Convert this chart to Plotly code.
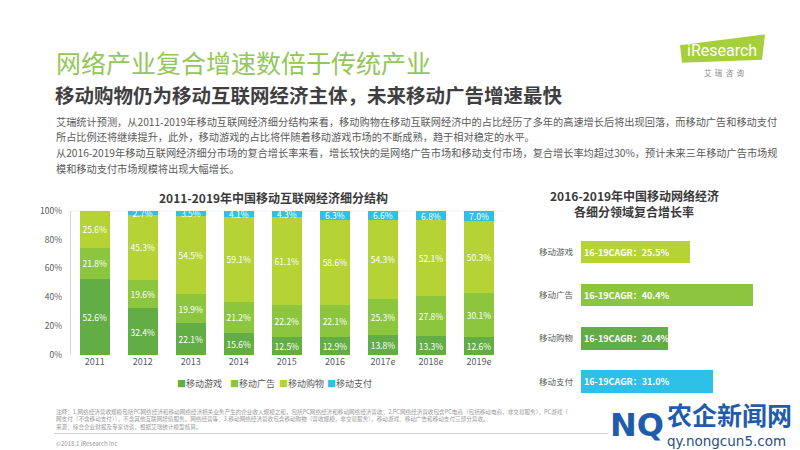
import plotly.graph_objects as go

# ---------------- data ----------------
years = ["2011", "2012", "2013", "2014", "2015", "2016", "2017e", "2018e", "2019e"]
games = [52.6, 32.4, 22.1, 15.6, 12.5, 12.9, 13.8, 13.3, 12.6]
ads = [21.8, 19.6, 19.9, 21.2, 22.2, 22.1, 25.3, 27.8, 30.1]
shopping = [25.6, 45.3, 54.5, 59.1, 61.1, 58.6, 54.3, 52.1, 50.3]
payment = [0.0, 2.7, 3.5, 4.1, 4.3, 6.3, 6.6, 6.8, 7.0]
series_names = ["移动游戏", "移动广告", "移动购物", "移动支付"]

cagr_cats = ["移动游戏", "移动广告", "移动购物", "移动支付"]
cagr_vals = [25.5, 40.4, 20.4, 31.0]

y_tick_vals = [0, 20, 40, 60, 80, 100]
y_tick_text = ["0%", "20%", "40%", "60%", "80%", "100%"]

# ---------------- style ----------------
FONT = "Noto Sans CJK SC"
C_GAME = "#62ad46"
C_AD = "#8cc63f"
C_SHOP = "#b5d335"
C_PAY = "#2ec0e6"
GREY = "#595959"
W, H = 800, 450


def px(x):
    return x / W


def py(y):
    return 1 - y / H


fig = go.Figure()

series = [games, ads, shopping, payment]
colors = [C_GAME, C_AD, C_SHOP, C_PAY]
for name, vals, col in zip(series_names, series, colors):
    fig.add_trace(go.Bar(
        x=years, y=vals, name=name, marker=dict(color=col, line=dict(width=0)),
        width=0.625,
        text=[f"{v:.1f}%" if v > 0 else "" for v in vals],
        textposition="inside", insidetextanchor="middle", constraintext="none",
        textangle=0,
        textfont=dict(family=FONT, size=8.5, color="white"),
        xaxis="x", yaxis="y", showlegend=False, hoverinfo="skip",
    ))

cagr_colors = [C_SHOP, C_AD, C_GAME, C_PAY]
fig.add_trace(go.Bar(
    x=cagr_vals, y=cagr_cats, orientation="h", width=0.52,
    marker=dict(color=cagr_colors, line=dict(width=0)),
    texttemplate="16-19CAGR：%{x:.1f}%", textposition="inside",
    insidetextanchor="start", constraintext="none", textangle=0,
    textfont=dict(family=FONT, size=9, color="white", weight="bold"),
    xaxis="x2", yaxis="y2", showlegend=False, hoverinfo="skip",
))

fig.update_layout(
    width=W, height=H, margin=dict(l=0, r=0, t=0, b=0),
    paper_bgcolor="white", plot_bgcolor="white",
    barmode="stack",
    font=dict(family=FONT, color=GREY),
    xaxis=dict(domain=[px(62.7), px(495)], type="category", showline=False,
               showgrid=False, zeroline=False, ticks="",
               tickfont=dict(size=9, color=GREY), anchor="y"),
    yaxis=dict(domain=[py(349.5), py(201)], range=[0, 100], tickvals=y_tick_vals,
               ticktext=y_tick_text, showline=True, linecolor="#d9d9d9", linewidth=1,
               showgrid=False, zeroline=False, ticks="", ticklabelstandoff=6,
               tickfont=dict(size=8.5, color=GREY), anchor="x"),
    xaxis2=dict(domain=[px(573), px(790)], range=[0, 217 / 4.26], visible=False,
                anchor="y2"),
    yaxis2=dict(domain=[py(398.9), py(221.3)], type="category", range=[3.5, -0.5],
                showline=False, showgrid=False, zeroline=False, ticks="",
                ticklabelstandoff=7, tickfont=dict(size=8.5, color=GREY), anchor="x2"),
)

# top 100% gridline
fig.add_shape(type="line", xref="x domain", yref="y", x0=0, x1=1, y0=100, y1=100,
              line=dict(color="#d9d9d9", width=1), layer="below")

ann = []


def txt(x, y, s, size, color=GREY, anchor="left", bold=False, family=FONT):
    ann.append(dict(x=px(x), y=py(y), xref="paper", yref="paper", text=s,
                    showarrow=False, xanchor=anchor, yanchor="middle",
                    font=dict(family=family, size=size, color=color,
                              weight="bold" if bold else "normal")))


# titles
txt(46, 48, "网络产业复合增速数倍于传统产业", 25, color="#93c75a")
txt(45, 82, "移动购物仍为移动互联网经济主体，未来移动广告增速最快", 19.5, color="#3f3f3f", bold=True)

para = [
    "艾瑞统计预测，从2011-2019年移动互联网经济细分结构来看，移动购物在移动互联网经济中的占比经历了多年的高速增长后将出现回落，而移动广告和移动支付",
    "所占比例还将继续提升，此外，移动游戏的占比将伴随着移动游戏市场的不断成熟，趋于相对稳定的水平。",
    "从2016-2019年移动互联网经济细分市场的复合增长率来看，增长较快的是网络广告市场和移动支付市场，复合增长率均超过30%，预计未来三年移动广告市场规",
    "模和移动支付市场规模将出现大幅增长。",
]
for i, line in enumerate(para):
    txt(46, 109 + i * 16.3, line, 10.2, color="#5a5a5a")

# chart titles
txt(265, 188, "2011-2019年中国移动互联网经济细分结构", 12, color="#3a3a3a", anchor="center", bold=True)
txt(626, 185, "2016-2019年中国移动网络经济", 12, color="#3a3a3a", anchor="center", bold=True)
txt(626, 202, "各细分领域复合增长率", 12, color="#3a3a3a", anchor="center", bold=True)

# legend (colour keys for the stacked chart)
leg_x = [167, 220, 269, 317]
for name, col, lx in zip(series_names, colors, leg_x):
    txt(lx, 379, f'<span style="color:{col}">■</span>{name}', 9, color=GREY)

# footer notes
notes = [
    "注释：1.网络经济营收规模包括PC网络经济和移动网络经济相关业务产生的企业收入规模之和，包括PC网络经济和移动网络经济营收；2.PC网络经济营收包含PC电商（包括移动电商，非交易服务），PC游戏（",
    "网支付（不含移动支付）），不含其他互联网增值服务。网络经营等：3.移动网络经济营收包含移动购物（营收规模，非交易服务），移动游戏、移动广告和移动支付三部分营收。",
    "来源：综合企业财报及专家访谈，根据艾瑞统计模型核算。",
]
for i, line in enumerate(notes):
    txt(46, 408 + i * 7.5, line, 5.6, color="#9a9a9a")
fig.add_shape(type="line", xref="paper", yref="paper", x0=px(46), x1=px(600),
              y0=py(430), y1=py(430), line=dict(color="#d0d0d0", width=1))
txt(46, 440, "©2018.1 iResearch Inc", 6, color="#9a9a9a")

# iResearch logo
fig.add_shape(type="path", xref="paper", yref="paper",
              path=f"M {px(672)} {py(31)} L {px(757)} {py(20)} L {px(754)} {py(46)} L {px(674)} {py(49)} Z",
              fillcolor="#a6cf3c", line=dict(width=0))
txt(714, 36, "iResearch", 16, color="white", anchor="center", family="Liberation Sans Narrow, Roboto")
txt(716, 59, "艾  瑞  咨  询", 7.5, color="#8a8a8a", anchor="center")

# watermark
txt(600, 421, "NQ", 32, color="#1f5cab", bold=True, family="DejaVu Sans")
txt(657, 410, "农企新闻网", 25, color="#1f5cab", bold=True)
txt(657, 438, "qy.nongcun5.com", 13.5, color="#2a4f86", family="DejaVu Sans")

fig.update_layout(annotations=ann)
fig.write_html("out.html")
